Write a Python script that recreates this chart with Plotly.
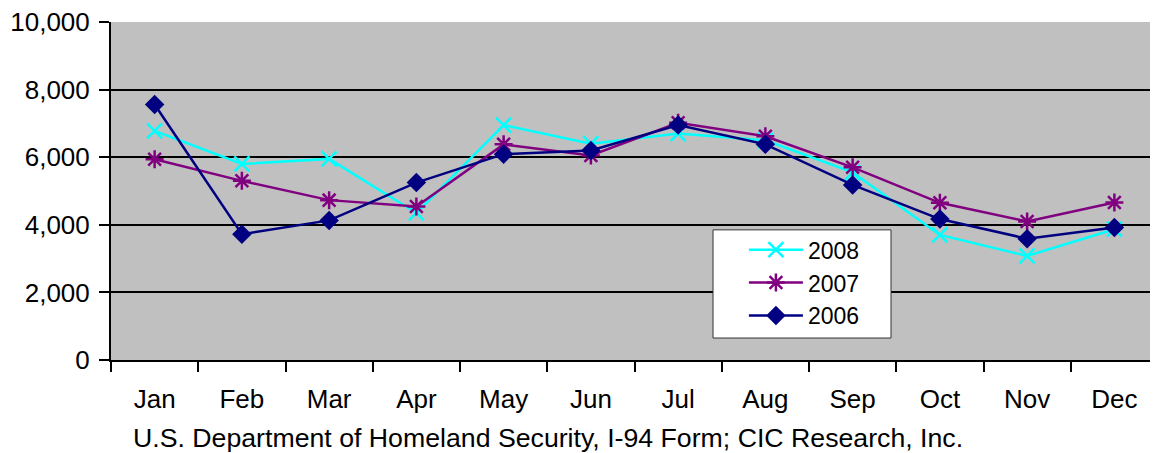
import plotly.graph_objects as go

months = ["Jan", "Feb", "Mar", "Apr", "May", "Jun", "Jul", "Aug", "Sep", "Oct", "Nov", "Dec"]
y2008 = [6780, 5800, 5950, 4350, 6950, 6400, 6700, 6500, 5550, 3700, 3080, 3870]
y2007 = [5940, 5300, 4730, 4540, 6380, 6050, 7020, 6620, 5700, 4650, 4100, 4660]
y2006 = [7560, 3720, 4130, 5250, 6090, 6200, 6950, 6380, 5180, 4170, 3590, 3920]
y_ticks = [0, 2000, 4000, 6000, 8000, 10000]
source = "U.S. Department of Homeland Security, I-94 Form; CIC Research, Inc."

FONT = "Liberation Sans, Arial, sans-serif"

fig = go.Figure()
fig.add_trace(go.Scatter(
    x=months, y=y2008, name="2008", mode="lines+markers",
    line=dict(color="#00FFFF", width=2.5),
    marker=dict(symbol="x-thin", size=15, color="#00FFFF", line=dict(color="#00FFFF", width=2.5)),
))
fig.add_trace(go.Scatter(
    x=months, y=y2007, name="2007", mode="lines+markers",
    line=dict(color="#800080", width=2.5),
    marker=dict(symbol="asterisk", size=15, color="#800080", line=dict(color="#800080", width=2.5)),
))
fig.add_trace(go.Scatter(
    x=months, y=y2006, name="2006", mode="lines+markers",
    line=dict(color="#000080", width=2.5),
    marker=dict(symbol="diamond", size=15, color="#000080", line=dict(color="#000080", width=0)),
))

# page body has an 8px default margin, so the figure is sized/offset to compensate
fig.update_layout(
    width=1150, height=445,
    margin=dict(l=103, r=0, t=14, b=93, autoexpand=False),
    paper_bgcolor="white",
    plot_bgcolor="#C0C0C0",
    font=dict(family=FONT, size=26, color="black"),
    showlegend=True,
    legend=dict(
        x=0.6045, y=0.39, xanchor="left", yanchor="top",
        bgcolor="rgba(0,0,0,0)", borderwidth=0,
        font=dict(family=FONT, size=23, color="black"),
        itemwidth=54,
    ),
    shapes=[dict(
        type="rect", xref="paper", yref="paper",
        x0=0.575, x1=0.745, y0=0.065, y1=0.385,
        fillcolor="white", line=dict(color="#333333", width=1), layer="above",
    )],
    xaxis=dict(
        type="category", range=[-0.5, 11.5], automargin=False,
        showgrid=False, showline=True, linecolor="black", linewidth=2,
        ticks="outside", ticklen=10, tickwidth=2, tickcolor="black",
        tickson="boundaries", ticklabelstandoff=15,
        tickfont=dict(family=FONT, size=26, color="black"),
        ticklabeloverflow="allow",
        zeroline=False,
    ),
    yaxis=dict(
        range=[0, 10000], tickvals=y_ticks, tickformat=",d", automargin=False,
        showgrid=True, gridcolor="black", gridwidth=2,
        showline=True, linecolor="black", linewidth=2,
        ticks="outside", ticklen=10, tickwidth=2, tickcolor="black",
        ticklabelstandoff=4, ticklabeloverflow="allow",
        tickfont=dict(family=FONT, size=26, color="black"),
        zeroline=False,
    ),
    annotations=[dict(
        text=source, xref="paper", yref="paper",
        x=0.019, y=-0.231, xanchor="left", yanchor="middle",
        showarrow=False, font=dict(family=FONT, size=26.7, color="black"),
    )],
)

fig.write_html("out.html")
